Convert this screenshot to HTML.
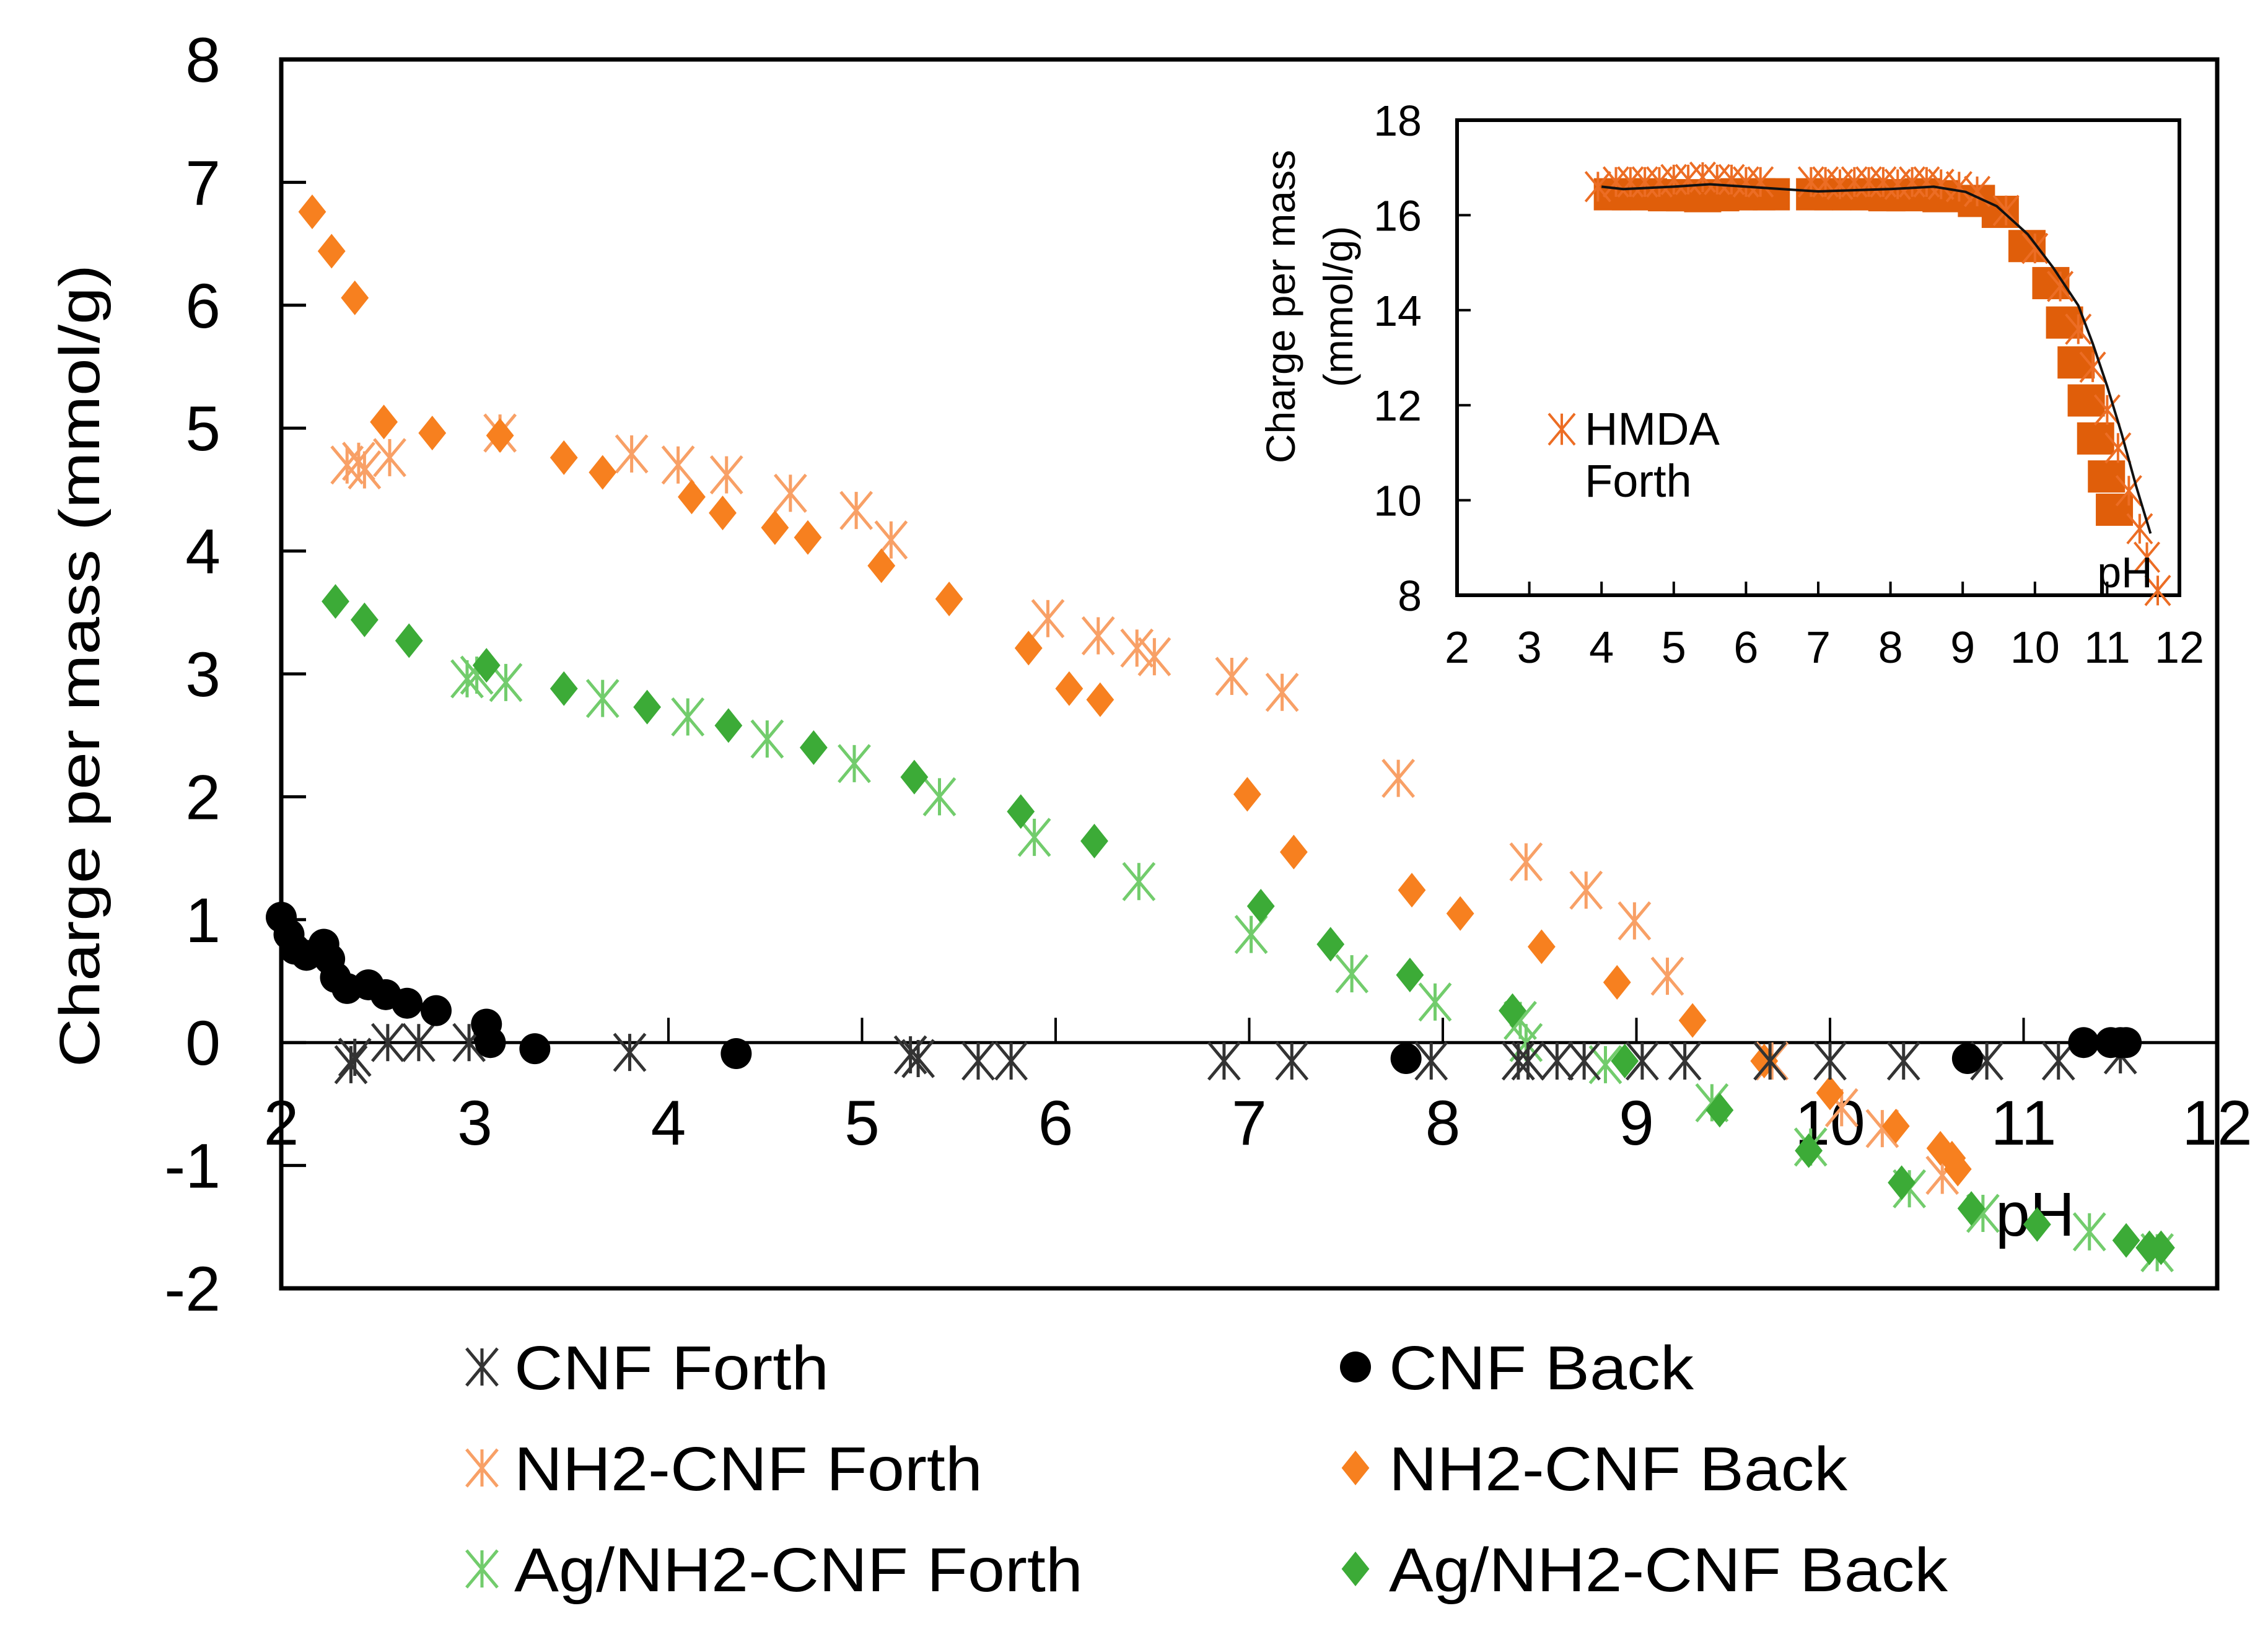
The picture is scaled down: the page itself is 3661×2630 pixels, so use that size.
<!DOCTYPE html>
<html><head><meta charset="utf-8"><style>
html,body{margin:0;padding:0;background:#fff;}
svg{display:block;font-family:"Liberation Sans",Arial,sans-serif;}
</style></head><body>
<svg id="chart" width="3661" height="2630" viewBox="0 0 3661 2630" xmlns="http://www.w3.org/2000/svg">
<g id="main"></g><g id="inset"></g><g id="legend"></g>
</svg>
<script>
// ---------- data ----------
const xTicks = [2,3,4,5,6,7,8,9,10,11,12];
const yTicks = [8,7,6,5,4,3,2,1,0,-1,-2];
const cnfForthX = [2.36,2.38,2.55,2.71,2.97,3.8,5.25,5.29,5.6,5.77,6.87,7.22,7.94,8.39,8.44,8.59,8.73,9.03,9.25,9.69,10.0,10.38,10.81,11.18,11.5];
const cnfForthY = [-0.18,-0.12,0,0,0,-0.08,-0.1,-0.13,-0.15,-0.15,-0.15,-0.15,-0.15,-0.15,-0.15,-0.15,-0.15,-0.15,-0.15,-0.15,-0.15,-0.15,-0.15,-0.15,-0.1];
const cnfBackX = [2.0,2.04,2.07,2.13,2.22,2.25,2.28,2.34,2.45,2.54,2.65,2.8,3.06,3.08,3.31,4.35,7.81,10.71,11.31,11.45,11.5,11.53];
const cnfBackY = [1.02,0.88,0.76,0.71,0.8,0.68,0.53,0.44,0.47,0.39,0.32,0.26,0.15,0.0,-0.05,-0.09,-0.13,-0.13,0.0,0.0,0.0,0.0];
const nhForthX = [2.34,2.4,2.43,2.56,3.13,3.81,4.05,4.3,4.63,4.97,5.15,5.96,6.22,6.42,6.51,6.91,7.17,7.77,8.43,8.74,8.99,9.16,9.7,10.06,10.27,10.58];
const nhForthY = [4.7,4.73,4.66,4.76,4.96,4.79,4.7,4.62,4.47,4.33,4.09,3.45,3.31,3.21,3.14,2.98,2.85,2.15,1.47,1.24,0.99,0.54,-0.15,-0.53,-0.7,-1.08];
const nhBackX = [2.16,2.26,2.38,2.53,2.78,3.13,3.46,3.66,4.12,4.28,4.55,4.72,5.1,5.45,5.86,6.07,6.23,6.99,7.23,7.84,8.09,8.51,8.9,9.29,9.66,10.0,10.34,10.57,10.63,10.66];
const nhBackY = [6.76,6.44,6.06,5.05,4.96,4.94,4.76,4.64,4.44,4.31,4.19,4.11,3.88,3.61,3.21,2.88,2.79,2.02,1.55,1.24,1.05,0.78,0.49,0.18,-0.15,-0.41,-0.68,-0.86,-0.94,-1.03];
const agForthX = [2.96,3.01,3.16,3.66,4.1,4.51,4.96,5.4,5.89,6.43,7.01,7.53,7.96,8.4,8.43,8.84,9.39,9.9,10.41,10.79,11.34,11.69];
const agForthY = [2.96,2.99,2.93,2.8,2.65,2.47,2.27,2.0,1.67,1.31,0.88,0.56,0.33,0.18,0.0,-0.18,-0.49,-0.85,-1.19,-1.39,-1.54,-1.71];
const agBackX = [2.28,2.43,2.66,3.06,3.46,3.89,4.31,4.75,5.27,5.82,6.2,7.06,7.42,7.83,8.36,8.94,9.43,9.89,10.37,10.73,11.07,11.53,11.65,11.71];
const agBackY = [3.59,3.44,3.27,3.07,2.88,2.73,2.58,2.4,2.16,1.88,1.64,1.11,0.8,0.55,0.26,-0.15,-0.55,-0.88,-1.14,-1.35,-1.48,-1.61,-1.67,-1.67];
// inset
const inXTicks = [2,3,4,5,6,7,8,9,10,11,12];
const inYTicks = [8,10,12,14,16,18];
const hmdaLineX = [4.0,4.3,5.0,5.5,6.0,6.5,7.0,8.0,8.6,9.04,9.47,9.9,10.25,10.6,10.8,11.0,11.2,11.4,11.6];
const hmdaLineY = [16.6,16.55,16.6,16.65,16.6,16.55,16.5,16.55,16.6,16.49,16.19,15.6,14.9,14.1,13.3,12.4,11.4,10.3,9.3];
const hmdaForthX = [3.95,4.2,4.4,4.6,4.8,5.0,5.2,5.4,5.6,5.8,6.0,6.2,6.9,7.1,7.3,7.5,7.7,7.9,8.1,8.3,8.5,8.7,8.95,9.2,9.6,10.0,10.35,10.6,10.8,11.0,11.15,11.3,11.45,11.55,11.7];
const hmdaForthY = [16.6,16.7,16.7,16.7,16.7,16.75,16.75,16.8,16.75,16.75,16.7,16.7,16.7,16.7,16.65,16.7,16.7,16.7,16.65,16.7,16.7,16.65,16.6,16.5,16.1,15.3,14.5,13.6,12.8,11.9,11.1,10.2,9.4,8.8,8.1];
const hmdaBackX = [4.15,4.4,4.65,4.9,5.15,5.4,5.65,5.9,6.15,6.35,6.95,7.2,7.45,7.7,7.95,8.2,8.45,8.7,9.19,9.52,9.89,10.22,10.41,10.57,10.71,10.84,10.99,11.1];
const hmdaBackY = [16.44,16.44,16.44,16.42,16.42,16.4,16.42,16.44,16.44,16.44,16.44,16.44,16.44,16.44,16.42,16.42,16.44,16.4,16.3,16.07,15.35,14.57,13.74,12.9,12.1,11.3,10.5,9.8];

const NS = "http://www.w3.org/2000/svg";
function mk(parent, tag, attrs, text){
  const e = document.createElementNS(NS, tag);
  for (const k in attrs) e.setAttribute(k, attrs[k]);
  if (text !== undefined) e.textContent = text;
  parent.appendChild(e);
  return e;
}
const L=454, R=3579, T=96, B=2080;
const X = v => L + (v-2)/10*(R-L);
const Y = v => T + (8-v)/10*(B-T);
const main = document.getElementById('main');

function asterisk(g, cx, cy, col, s, sw){
  return mk(g,'path',{d:`M${cx-s*0.5},${cy-s*0.6}L${cx+s*0.5},${cy+s*0.6}M${cx+s*0.5},${cy-s*0.6}L${cx-s*0.5},${cy+s*0.6}M${cx},${cy-s*0.6}L${cx},${cy+s*0.6}`,stroke:col,'stroke-width':sw,fill:'none'});
}
function diamond(g,cx,cy,col,s){
  return mk(g,'path',{d:`M${cx},${cy-s}L${cx+s*0.8},${cy}L${cx},${cy+s}L${cx-s*0.8},${cy}Z`,fill:col});
}

let fr = mk(main,'rect',{x:L,y:T,width:R-L,height:B-T,fill:'none',stroke:'#000','stroke-width':7});


let zl = mk(main,'line',{x1:L,y1:Y(0),x2:R,y2:Y(0),stroke:'#000','stroke-width':5});


yTicks.forEach(v=>{
  if (v<8 && v>-2) mk(main,'line',{x1:L,y1:Y(v),x2:L+40,y2:Y(v),stroke:'#000','stroke-width':5});
  const t = mk(main,'text',{x:356,y:Y(v)+36,'text-anchor':'end','font-size':102},String(v));
  
  
});
xTicks.forEach(v=>{
  if (v>2 && v<12) mk(main,'line',{x1:X(v),y1:Y(0),x2:X(v),y2:Y(0)-40,stroke:'#000','stroke-width':4});
  const t = mk(main,'text',{x:X(v),y:1848,'text-anchor':'middle','font-size':102},String(v));
  
  
});
let ph = mk(main,'text',{x:3285,y:1995,'text-anchor':'middle','font-size':100},'pH');


let yt = mk(main,'text',{x:0,y:0,'text-anchor':'middle','font-size':92,transform:'translate(160,1075) rotate(-90)',textLength:1296,lengthAdjust:'spacingAndGlyphs'},'Charge per mass  (mmol/g)');



function series(name, xs, ys, kind, col){
  const g = mk(main,'g',{});
  
  
  xs.forEach((x,i)=>{
    const cx=X(x), cy=Y(ys[i]);
    let m;
    if (kind==='ast') m = asterisk(g,cx,cy,col,50,5);
    else if (kind==='dia') m = diamond(g,cx,cy,col,28);
    else m = mk(g,'circle',{cx:cx,cy:cy,r:25,fill:col});
    
    
  });
}
series('nh2-cnf-forth', nhForthX, nhForthY, 'ast', '#f8a066');
series('ag-nh2-cnf-forth', agForthX, agForthY, 'ast', '#72cc6c');
series('nh2-cnf-back', nhBackX, nhBackY, 'dia', '#f7801f');
series('ag-nh2-cnf-back', agBackX, agBackY, 'dia', '#3cab37');
series('cnf-forth', cnfForthX, cnfForthY, 'ast', '#333');
series('cnf-back', cnfBackX, cnfBackY, 'circ', '#000');

// ---------- inset ----------
const inset = document.getElementById('inset');


const IL=2352, IR=3518, IT=194, IB=961;
const IX = v => IL + (v-2)/10*(IR-IL);
const IY = v => IT + (18-v)/10*(IB-IT);
mk(inset,'rect',{x:IL,y:IT,width:IR-IL,height:IB-IT,fill:'#fff',stroke:'#000','stroke-width':6});
inYTicks.forEach(v=>{
  if (v>8 && v<18) mk(inset,'line',{x1:IL,y1:IY(v),x2:IL+22,y2:IY(v),stroke:'#000','stroke-width':4});
  const t = mk(inset,'text',{x:2295,y:IY(v)+25,'text-anchor':'end','font-size':70},String(v));
  
  
});
inXTicks.forEach(v=>{
  if (v>2 && v<12) mk(inset,'line',{x1:IX(v),y1:IB,x2:IX(v),y2:IB-22,stroke:'#000','stroke-width':4});
  const t = mk(inset,'text',{x:IX(v),y:1070,'text-anchor':'middle','font-size':72},String(v));
  
  
});
const ib = mk(inset,'g',{});


hmdaBackX.forEach((x,i)=>{
  const s = mk(ib,'rect',{x:IX(x)-30,y:IY(hmdaBackY[i])-26,width:60,height:52,fill:'#e05e0a'});
  
  
});
const ifo = mk(inset,'g',{});


hmdaForthX.forEach((x,i)=>{
  const a = asterisk(ifo,IX(x),IY(hmdaForthY[i]),'#ec6d24',40,4);
  
  
});
const ln = mk(inset,'polyline',{points:hmdaLineX.map((x,i)=>IX(x)+','+IY(hmdaLineY[i])).join(' '),fill:'none',stroke:'#111','stroke-width':4});


let ilm = asterisk(inset,2521,693,'#ec6d24',42,4);


let il1 = mk(inset,'text',{x:2558,y:718,'font-size':74},'HMDA');


let il2 = mk(inset,'text',{x:2558,y:802,'font-size':74},'Forth');


let iph = mk(inset,'text',{x:3430,y:948,'text-anchor':'middle','font-size':70},'pH');


let iyt1 = mk(inset,'text',{x:0,y:0,'text-anchor':'middle','font-size':66,transform:'translate(2090,495) rotate(-90)'},'Charge per mass');


let iyt2 = mk(inset,'text',{x:0,y:0,'text-anchor':'middle','font-size':66,transform:'translate(2183,495) rotate(-90)'},'(mmol/g)');



// ---------- legend ----------
const leg = document.getElementById('legend');


const rows=[2207,2370,2533];
const entries=[
 ['CNF Forth','ast','#333',0,0,'legend-cnf-forth'],
 ['CNF Back','circ','#000',1,0,'legend-cnf-back'],
 ['NH2-CNF Forth','ast','#f8a066',0,1,'legend-nh2-cnf-forth'],
 ['NH2-CNF Back','dia','#f7801f',1,1,'legend-nh2-cnf-back'],
 ['Ag/NH2-CNF Forth','ast','#72cc6c',0,2,'legend-ag-nh2-cnf-forth'],
 ['Ag/NH2-CNF Back','dia','#3cab37',1,2,'legend-ag-nh2-cnf-back']];
const lens={'CNF Forth':508,'CNF Back':492,'NH2-CNF Forth':756,'NH2-CNF Back':740,'Ag/NH2-CNF Forth':918,'Ag/NH2-CNF Back':902};
entries.forEach(e=>{
  const mx = e[3]? 2188:778, tx = e[3]? 2242:830, y=rows[e[4]];
  const g = mk(leg,'g',{});
  
  
  if (e[1]==='ast') asterisk(g,mx,y,e[2],50,5);
  else if (e[1]==='dia') diamond(g,mx,y,e[2],28);
  else mk(g,'circle',{cx:mx,cy:y,r:25,fill:e[2]});
  mk(g,'text',{x:tx,y:y+36,'font-size':100,textLength:lens[e[0]],lengthAdjust:'spacingAndGlyphs'},e[0]);
});
</script>
</body></html>
